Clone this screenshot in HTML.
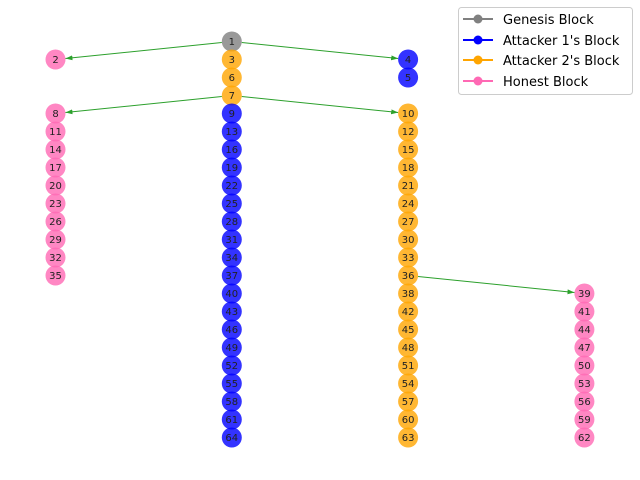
<!DOCTYPE html>
<html><head><meta charset="utf-8"><style>
body{margin:0;background:#fff}
svg{display:block;font-family:"DejaVu Sans","Liberation Sans",sans-serif}
</style></head><body>
<svg id="chart" width="640" height="480">
<defs><marker id="arr" viewBox="0 0 10 10" refX="10" refY="5" markerWidth="7" markerHeight="7" orient="auto"><path d="M0,1.5 L10,5 L0,8.5 z" fill="#2ca02c"/></marker></defs>
<g id="edges"></g>
<g id="nodes"></g>
<g>
<rect x="458.5" y="7.5" width="174" height="87" rx="3" fill="#fff" stroke="#ccc"/>
<g><line x1="463" y1="19" x2="493" y2="19" stroke="#808080" stroke-width="2"/><circle cx="478" cy="19" r="4.5" fill="#808080"/><text x="503" y="24" font-size="13">Genesis Block</text></g>
<g><line x1="463" y1="40" x2="493" y2="40" stroke="#0000ff" stroke-width="2"/><circle cx="478" cy="40" r="4.5" fill="#0000ff"/><text x="503" y="45" font-size="13">Attacker 1's Block</text></g>
<g><line x1="463" y1="60" x2="493" y2="60" stroke="#ffa500" stroke-width="2"/><circle cx="478" cy="60" r="4.5" fill="#ffa500"/><text x="503" y="65" font-size="13">Attacker 2's Block</text></g>
<g><line x1="463" y1="81" x2="493" y2="81" stroke="#ff69b4" stroke-width="2"/><circle cx="478" cy="81" r="4.5" fill="#ff69b4"/><text x="503" y="86" font-size="13">Honest Block</text></g>
</g>
</svg>
<script>
const blockIds = [1,2,3,4,5,6,7,8,9,10,11,12,13,14,15,16,17,18,19,20,21,22,23,24,25,26,27,28,29,30,31,32,33,34,35,36,37,38,39,40,41,42,43,44,45,46,47,48,49,50,51,52,53,54,55,56,57,58,59,60,61,62,63,64];
const blockCols = [1,0,1,2,2,1,1,0,1,2,0,2,1,0,2,1,0,2,1,0,2,1,0,2,1,0,2,1,0,2,1,0,2,1,0,2,1,2,3,1,3,2,1,3,2,1,3,2,1,3,2,1,3,2,1,3,2,1,3,2,1,3,2,1];
const blockRows = [0,1,1,1,2,2,3,4,4,4,5,5,5,6,6,6,7,7,7,8,8,8,9,9,9,10,10,10,11,11,11,12,12,12,13,13,13,14,14,14,15,15,15,16,16,16,17,17,17,18,18,18,19,19,19,20,20,20,21,21,21,22,22,22];
const blockTypes = ['G','H','A2','A1','A1','A2','A2','H','A1','A2','H','A2','A1','H','A2','A1','H','A2','A1','H','A2','A1','H','A2','A1','H','A2','A1','H','A2','A1','H','A2','A1','H','A2','A1','A2','H','A1','H','A2','A1','H','A2','A1','H','A2','A1','H','A2','A1','H','A2','A1','H','A2','A1','H','A2','A1','H','A2','A1'];
const forkFrom = [1,1,7,7,36];
const forkTo = [2,4,8,10,39];
const colors = {G:'#808080',A1:'#0000ff',A2:'#ffa500',H:'#ff69b4'};
const xs = c => 55.5 + c*176.3;
const ys = r => 41.5 + r*18;
const NS='http://www.w3.org/2000/svg';
const R=10;
const nodesG=document.getElementById('nodes'), edgesG=document.getElementById('edges');
function pos(id){const i=blockIds.indexOf(id);return [xs(blockCols[i]),ys(blockRows[i])];}
for(let k=0;k<forkFrom.length;k++){
  const [x1,y1]=pos(forkFrom[k]),[x2,y2]=pos(forkTo[k]);
  const dx=x2-x1,dy=y2-y1,L=Math.hypot(dx,dy);
  const l=document.createElementNS(NS,'line');
  l.setAttribute('x1',x1+dx/L*R);l.setAttribute('y1',y1+dy/L*R);
  l.setAttribute('x2',x2-dx/L*R);l.setAttribute('y2',y2-dy/L*R);
  l.setAttribute('stroke','#2ca02c');l.setAttribute('stroke-width','1');
  l.setAttribute('marker-end','url(#arr)');
  
  
  edgesG.appendChild(l);
}
for(let i=0;i<blockIds.length;i++){
  const x=xs(blockCols[i]),y=ys(blockRows[i]);
  const g=document.createElementNS(NS,'g');
  
  
  const c=document.createElementNS(NS,'circle');
  c.setAttribute('cx',x);c.setAttribute('cy',y);c.setAttribute('r',R);
  c.setAttribute('fill',colors[blockTypes[i]]);c.setAttribute('fill-opacity','0.8');
  const t=document.createElementNS(NS,'text');
  t.setAttribute('x',x);t.setAttribute('y',y+3.5);t.setAttribute('text-anchor','middle');
  t.setAttribute('font-size','10');t.setAttribute('fill','#222');
  t.textContent=blockIds[i];
  g.appendChild(c);g.appendChild(t);nodesG.appendChild(g);
}
</script>
</body></html>
